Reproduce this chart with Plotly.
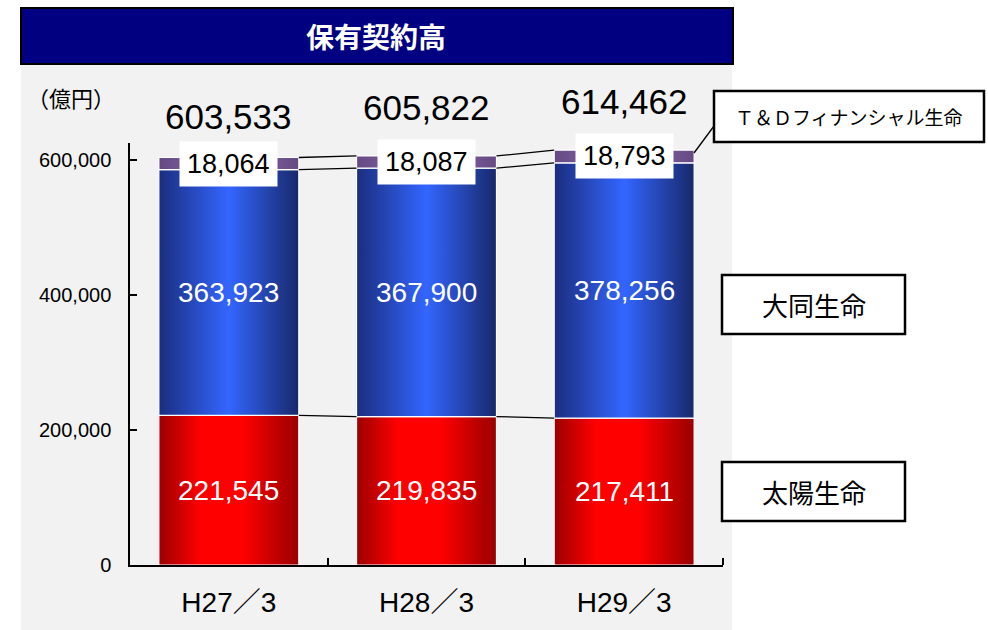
import plotly.graph_objects as go

# ---------------- data ----------------
categories = ["H27／3", "H28／3", "H29／3"]
taiyo = [221545, 219835, 217411]
daido = [363923, 367900, 378256]
td_fin = [18064, 18087, 18793]
totals = [603533, 605822, 614462]
series_names = ["太陽生命", "大同生命", "Ｔ＆Ｄフィナンシャル生命"]
title_text = "保有契約高"
unit_text = "（億円）"
y_ticks = [0, 200000, 400000, 600000]

# ---------------- layout helpers (absolute pixel -> paper) ----------------
OFF = 0  # page body margin removed by post_script
W_WIN, H_WIN = 988, 630
PL, PR, PT, PB = 130, 723, 143, 565  # plot area in window pixels
PW = PR - PL
PH = PB - PT


def px(x):
    return (x - PL) / PW


def py(y):
    return (PB - y) / PH


FONT = "Liberation Sans, Arial, Noto Sans CJK JP"
JFONT = "Noto Sans CJK JP, Liberation Sans"

red_scale = [[0, "#9C0000"], [0.3, "#FF0000"], [0.6, "#FF0000"], [1, "#980000"]]
blue_scale = [[0, "#1B2D7E"], [0.5, "#3366FF"], [1, "#18286A"]]
purple_scale = [[0, "#654A82"], [0.5, "#8E6BB5"], [1, "#654A82"]]

fig = go.Figure()

HW = 0.354  # half bar width in category units
series = [(taiyo, red_scale), (daido, blue_scale), (td_fin, purple_scale)]
base = [0] * len(categories)
levels = []
for vals, cs in series:
    for i, v in enumerate(vals):
        x0, x1 = i - HW, i + HW
        y0, y1 = base[i], base[i] + v
        fig.add_trace(go.Scatter(
            x=[x0, x1, x1, x0, x0], y=[y0, y0, y1, y1, y0],
            mode="lines", fill="toself",
            line=dict(color="white", width=1.2),
            fillgradient=dict(type="horizontal", colorscale=cs),
            showlegend=False, hoverinfo="skip"))
    base = [b + v for b, v in zip(base, vals)]
    levels.append(list(base))

# series lines between bars
for lev in levels:
    for i in range(len(categories) - 1):
        fig.add_trace(go.Scatter(
            x=[i + HW, i + 1 - HW], y=[lev[i], lev[i + 1]],
            mode="lines", line=dict(color="black", width=1.3),
            showlegend=False, hoverinfo="skip"))

annotations = []
# value labels
for i in range(len(categories)):
    annotations.append(dict(x=i, y=taiyo[i] / 2, text=f"{taiyo[i]:,}", showarrow=False,
                            font=dict(family=FONT, size=28, color="white")))
    annotations.append(dict(x=i, y=taiyo[i] + daido[i] / 2, text=f"{daido[i]:,}", showarrow=False,
                            font=dict(family=FONT, size=28, color="white")))
    annotations.append(dict(x=i, y=taiyo[i] + daido[i] + td_fin[i] / 2, text=f"{td_fin[i]:,}",
                            showarrow=False, bgcolor="white", borderpad=7,
                            font=dict(family=FONT, size=27, color="black")))
# totals
total_shift = [41, 48, 49]
for i in range(len(categories)):
    annotations.append(dict(x=i, y=totals[i], text=f"{totals[i]:,}", showarrow=False,
                            yanchor="middle", yshift=total_shift[i],
                            font=dict(family=FONT, size=35, color="black")))

# title
annotations.append(dict(xref="paper", yref="paper", x=px(376), y=py(36), text=f"<b>{title_text}</b>",
                        xanchor="center", yanchor="middle",
                        showarrow=False, font=dict(family=JFONT, size=28, color="white")))
# unit
annotations.append(dict(xref="paper", yref="paper", x=px(71), y=py(97), text=unit_text,
                        xanchor="center", yanchor="middle",
                        showarrow=False, font=dict(family=JFONT, size=22, color="black")))

shapes = [
    # gray panel
    dict(type="rect", xref="paper", yref="paper", x0=px(21), x1=px(732), y0=py(640), y1=py(64),
         fillcolor="#F2F2F2", line=dict(width=0), layer="below"),
    # title bar
    dict(type="rect", xref="paper", yref="paper", x0=px(21), x1=px(733), y0=py(64), y1=py(8),
         fillcolor="#000080", line=dict(color="black", width=2), layer="above"),
    # leader line from T&D box to bar
    dict(type="line", xref="paper", yref="paper", x0=px(714), y0=py(126), x1=px(694), y1=py(153),
         line=dict(color="black", width=1.3)),
]

# series name boxes
boxes = [
    (series_names[2], 714, 984, 91, 142, 19),
    (series_names[1], 722, 905, 275, 334, 26),
    (series_names[0], 722, 905, 462, 521, 26),
]
for name, x0, x1, y0, y1, fs in boxes:
    shapes.append(dict(type="rect", xref="paper", yref="paper", x0=px(x0), x1=px(x1),
                       y0=py(y1), y1=py(y0), fillcolor="white",
                       line=dict(color="black", width=2.5), layer="above"))
    annotations.append(dict(xref="paper", yref="paper", x=px((x0 + x1) / 2), y=py((y0 + y1) / 2),
                            xanchor="center", yanchor="middle",
                            text=name, showarrow=False,
                            font=dict(family=JFONT, size=fs, color="black")))

fig.update_layout(
    width=W_WIN - OFF, height=H_WIN - OFF,
    margin=dict(l=PL - OFF, r=W_WIN - PR, t=PT - OFF, b=H_WIN - PB, pad=0),
    paper_bgcolor="white", plot_bgcolor="rgba(0,0,0,0)",
    showlegend=False,
    annotations=annotations, shapes=shapes,
    xaxis=dict(range=[-0.5, len(categories) - 0.5], tickvals=list(range(len(categories))),
               ticktext=categories, ticks="", showgrid=False, zeroline=False,
               showline=True, linecolor="black", linewidth=1.5,
               tickfont=dict(family=FONT, size=28, color="black"), ticklabelstandoff=12,
               minor=dict(tickvals=[i + 0.5 for i in range(len(categories))], ticks="inside",
                          ticklen=7, tickcolor="black", tickwidth=1.5, showgrid=False),
               fixedrange=True),
    yaxis=dict(range=[0, 625000], tickvals=y_ticks, tickformat=",", ticks="inside", ticklen=7,
               tickcolor="black", tickwidth=1.5, showgrid=False, zeroline=False,
               showline=True, linecolor="black", linewidth=1.5,
               tickfont=dict(family=FONT, size=20, color="black"), ticklabelstandoff=13,
               fixedrange=True),
)

fig.write_html(
    "out.html",
    config={"displayModeBar": False},
    post_script=("document.documentElement.style.overflow='hidden';"
                 "document.body.style.margin='0px';document.body.style.overflow='hidden';"),
)
